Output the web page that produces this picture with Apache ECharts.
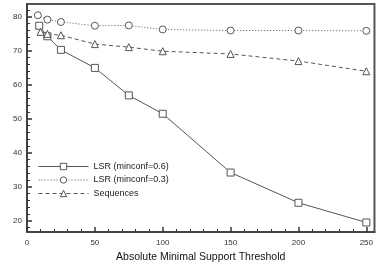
<!DOCTYPE html>
<html><head><meta charset="utf-8">
<script src="https://cdn.jsdelivr.net/npm/echarts@6/dist/echarts.min.js"></script>
<style>html,body{margin:0;padding:0;background:#fff}#c{width:376px;height:268px}</style>
</head><body><div id="c"></div>
<script>
const xLSR06 = [9, 15, 25, 50, 75, 100, 150, 200, 250];
const yLSR06 = [77.4, 74.3, 70.3, 65.0, 56.9, 51.5, 34.2, 25.3, 19.5];
const xLSR03 = [8, 15, 25, 50, 75, 100, 150, 200, 250];
const yLSR03 = [80.5, 79.2, 78.5, 77.4, 77.5, 76.3, 76.0, 76.0, 75.9];
const xSeq = [10, 15, 25, 50, 75, 100, 150, 200, 250];
const ySeq = [75.6, 75.0, 74.6, 72.0, 71.1, 69.9, 69.1, 67.0, 64.0];
const names = ['LSR (minconf=0.6)', 'LSR (minconf=0.3)', 'Sequences'];
const xTicks = [0, 50, 100, 150, 200, 250];
const yTicks = [20, 30, 40, 50, 60, 70, 80];
const xMinor = [10,20,30,40,60,70,80,90,110,120,130,140,160,170,180,190,210,220,230,240];
const yMinor = [18,22,24,26,28,32,34,36,38,42,44,46,48,52,54,56,58,62,64,66,68,72,74,76,78,82];

const zip = (xs, ys) => xs.map((x, i) => [x, ys[i]]);
const col = '#555';
const X_MIN = 0, X_MAX = 256, Y_MIN = 16.7, Y_MAX = 83.8;
const FF = 'Liberation Sans, Arial, sans-serif';
const lbl = {fontFamily: FF, fontSize: 8, color: '#333'};

function mkSeries(name, data, symbol, type) {
  return {
    name, type: 'line', data, symbol, symbolSize: 7,
    itemStyle: {color: '#fff', borderColor: col, borderWidth: 1},
    lineStyle: {color: col, width: 1, type},
    emphasis: {disabled: true}, animation: false
  };
}

const chart = echarts.init(document.getElementById('c'), null, {renderer: 'canvas'});
chart.setOption({
  animation: false,
  grid: {left: 27, right: -3, top: 4, bottom: 30, show: true, borderColor: '#555', borderWidth: 2},
  legend: {
    orient: 'vertical', left: 33, top: 157, itemWidth: 50, itemHeight: 8, itemGap: 4.5,
    data: names, textStyle: {fontFamily: FF, fontSize: 9, color: '#222'},
    itemStyle: {borderWidth: 1}, lineStyle: {width: 1},
    selectedMode: false
  },
  xAxis: [{
    type: 'value', min: X_MIN, max: X_MAX,
    name: 'Absolute Minimal Support Threshold', nameLocation: 'middle', nameGap: 20,
    nameTextStyle: {fontFamily: FF, fontSize: 10.5, color: '#111'},
    axisLine: {show: true, lineStyle: {color: '#444', width: 2}},
    axisTick: {show: true, inside: true, length: 5, customValues: xTicks, lineStyle: {color: '#333', width: 1.5}},
    axisLabel: Object.assign({customValues: xTicks, margin: 7}, lbl),
    splitLine: {show: false}
  }, {
    type: 'value', min: X_MIN, max: X_MAX, position: 'bottom',
    axisLine: {show: false},
    axisTick: {show: true, inside: true, length: 3, customValues: xMinor, lineStyle: {color: '#333', width: 1}},
    axisLabel: {show: false}, splitLine: {show: false}
  }],
  yAxis: [{
    type: 'value', min: Y_MIN, max: Y_MAX,
    axisLine: {show: true, lineStyle: {color: '#444', width: 2}},
    axisTick: {show: true, inside: true, length: 5, customValues: yTicks, lineStyle: {color: '#333', width: 1.5}},
    axisLabel: Object.assign({customValues: yTicks, margin: 5}, lbl),
    splitLine: {show: false}
  }, {
    type: 'value', min: Y_MIN, max: Y_MAX, position: 'left',
    axisLine: {show: false},
    axisTick: {show: true, inside: true, length: 3, customValues: yMinor, lineStyle: {color: '#333', width: 1}},
    axisLabel: {show: false}, splitLine: {show: false}
  }],
  series: [
    mkSeries(names[0], zip(xLSR06, yLSR06), 'rect', 'solid'),
    mkSeries(names[1], zip(xLSR03, yLSR03), 'circle', [1, 2]),
    mkSeries(names[2], zip(xSeq, ySeq), 'triangle', [4, 3])
  ]
});
</script></body></html>
